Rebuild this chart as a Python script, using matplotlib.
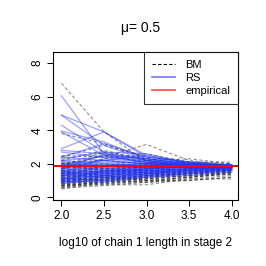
import matplotlib.pyplot as plt
from matplotlib.lines import Line2D

# log10 of chain 1 length in stage 2
x = [2.0, 2.5, 3.0, 3.5, 4.0]

# batch means estimates, one row per replication
bm = [
    [6.8, 3.9, 2.1, 1.9, 1.8],
    [3.8, 3.2, 2.3, 2.0, 1.9],
    [2.5, 2.4, 3.15, 2.2, 1.9],
    [2.4, 3.1, 2.4, 2.1, 1.8],
    [2.2, 2.8, 2.2, 1.9, 1.9],
    [2.1, 2.2, 2.0, 1.8, 1.7],
    [2.0, 1.9, 1.9, 2.0, 1.8],
    [1.9, 2.5, 2.1, 1.9, 2.0],
    [1.8, 1.7, 1.8, 1.8, 1.7],
    [1.7, 2.0, 1.7, 1.9, 1.8],
    [1.6, 1.5, 1.6, 1.7, 1.8],
    [1.6, 1.8, 2.0, 1.8, 1.9],
    [1.5, 1.4, 1.5, 1.6, 1.7],
    [1.5, 1.7, 1.9, 2.0, 1.8],
    [1.4, 1.6, 1.6, 1.7, 1.8],
    [1.4, 1.3, 1.4, 1.5, 1.6],
    [1.3, 1.5, 1.7, 1.8, 1.7],
    [1.3, 1.2, 1.3, 1.5, 1.6],
    [1.2, 1.4, 1.5, 1.6, 1.7],
    [1.2, 1.6, 1.8, 1.9, 1.9],
    [1.1, 1.1, 1.2, 1.4, 1.5],
    [1.1, 1.3, 1.6, 1.7, 1.8],
    [1.0, 1.2, 1.4, 1.6, 1.7],
    [1.0, 1.0, 1.1, 1.3, 1.5],
    [1.0, 1.4, 1.7, 1.8, 1.9],
    [0.9, 1.1, 1.3, 1.5, 1.6],
    [0.9, 0.9, 1.0, 1.2, 1.4],
    [0.9, 1.3, 1.5, 1.7, 1.8],
    [0.8, 1.0, 1.2, 1.4, 1.6],
    [0.8, 0.8, 0.9, 1.1, 1.3],
    [0.8, 1.2, 1.4, 1.6, 1.7],
    [0.7, 0.9, 1.1, 1.3, 1.5],
    [0.7, 0.75, 0.75, 1.1, 1.1],
    [0.7, 1.1, 1.3, 1.5, 1.7],
    [0.6, 0.8, 1.0, 1.2, 1.4],
    [0.6, 1.0, 1.2, 1.5, 1.6],
    [0.55, 0.7, 0.9, 1.0, 1.2],
    [0.5, 0.9, 1.1, 1.4, 1.6],
    [1.2, 1.0, 0.9, 1.2, 1.4],
    [1.4, 1.9, 2.2, 2.3, 2.0],
    [1.7, 2.3, 2.6, 2.1, 2.0],
    [1.9, 2.7, 2.3, 2.0, 1.9],
    [2.0, 1.6, 1.4, 1.6, 1.7],
    [1.1, 1.5, 2.0, 2.1, 2.1],
    [0.9, 1.2, 1.0, 1.0, 1.2],
    [1.3, 1.7, 1.5, 1.4, 1.5],
    [1.5, 1.2, 1.1, 1.3, 1.4],
    [0.75, 0.85, 1.0, 1.2, 1.5],
    [0.65, 0.95, 1.3, 1.4, 1.6],
    [1.05, 1.05, 1.25, 1.45, 1.65],
]

# regenerative simulation estimates
rs = [
    [6.05, 2.6, 2.0, 1.9, 1.85],
    [4.9, 3.9, 2.5, 2.0, 1.9],
    [4.9, 3.1, 2.2, 1.9, 1.8],
    [4.3, 2.7, 2.6, 2.0, 1.9],
    [3.95, 3.3, 2.3, 2.0, 1.9],
    [3.9, 2.5, 2.1, 1.9, 1.8],
    [2.9, 3.9, 2.4, 2.1, 1.9],
    [2.8, 2.6, 2.3, 2.0, 1.9],
    [2.7, 2.4, 2.2, 1.9, 1.8],
    [2.4, 3.2, 2.4, 2.1, 1.9],
    [2.4, 2.2, 2.0, 1.9, 1.9],
    [2.3, 2.7, 2.2, 2.0, 1.9],
    [2.2, 2.0, 1.9, 1.9, 1.8],
    [2.2, 2.4, 2.1, 1.9, 1.9],
    [2.1, 1.9, 1.8, 1.8, 1.8],
    [2.0, 2.2, 2.0, 1.9, 1.9],
    [2.0, 1.8, 1.8, 1.9, 1.8],
    [1.9, 2.1, 2.0, 1.9, 1.9],
    [1.9, 1.7, 1.7, 1.8, 1.8],
    [1.8, 2.0, 1.9, 1.9, 1.8],
    [1.8, 1.6, 1.7, 1.8, 1.8],
    [1.7, 1.9, 1.9, 1.8, 1.9],
    [1.7, 1.5, 1.6, 1.7, 1.8],
    [1.6, 1.8, 1.8, 1.9, 1.8],
    [1.6, 1.5, 1.7, 1.8, 1.8],
    [1.5, 1.7, 1.8, 1.8, 1.9],
    [1.5, 1.4, 1.6, 1.7, 1.8],
    [1.4, 1.6, 1.7, 1.8, 1.8],
    [1.4, 1.5, 1.6, 1.7, 1.8],
    [1.3, 1.5, 1.7, 1.8, 1.8],
    [1.3, 1.4, 1.5, 1.7, 1.7],
    [1.2, 1.4, 1.6, 1.7, 1.8],
    [1.2, 1.3, 1.5, 1.6, 1.7],
    [1.1, 1.3, 1.5, 1.7, 1.8],
    [1.1, 1.2, 1.4, 1.6, 1.7],
    [1.0, 1.3, 1.5, 1.6, 1.8],
    [1.0, 1.1, 1.3, 1.5, 1.7],
    [0.9, 1.2, 1.4, 1.6, 1.7],
    [0.9, 1.0, 1.3, 1.5, 1.7],
    [0.8, 1.1, 1.4, 1.6, 1.7],
    [1.25, 1.9, 2.0, 1.9, 1.9],
    [1.45, 2.3, 2.1, 2.0, 1.9],
    [1.65, 2.6, 2.2, 1.9, 1.9],
    [1.85, 2.5, 2.3, 2.0, 1.9],
    [1.05, 1.6, 1.8, 1.8, 1.8],
    [1.15, 1.0, 1.2, 1.3, 1.5],
    [1.35, 1.2, 1.3, 1.4, 1.6],
    [1.55, 1.3, 1.4, 1.5, 1.6],
    [0.95, 0.9, 1.2, 1.4, 1.6],
    [1.75, 2.2, 2.5, 2.1, 1.9],
]

empirical = 1.87

plt.rcParams["font.family"] = ["Liberation Sans", "DejaVu Sans"]

fig = plt.figure(figsize=(2.66, 2.66), dpi=100)
ax = fig.add_axes([0.199, 0.248, 0.696, 0.557])

for row in bm:
    ax.plot(x, row, color="#333333", ls=(0, (3, 2)), lw=0.8, alpha=0.55)
for row in rs:
    ax.plot(x, row, color="#2233ff", lw=0.9, alpha=0.45)
ax.axhline(empirical, color="red", lw=1.4)

ax.set_xlim(1.9, 4.075)
ax.set_ylim(-0.16, 8.67)
ax.set_xticks([2.0, 2.5, 3.0, 3.5, 4.0])
ax.set_xticklabels(["2.0", "2.5", "3.0", "3.5", "4.0"])
ax.set_yticks([0, 2, 4, 6, 8])
ax.set_yticklabels(["0", "2", "4", "6", "8"], rotation=90, va="center")
ax.tick_params(labelsize=8.5, length=4, width=0.7, pad=3)
for s in ax.spines.values():
    s.set_linewidth(0.8)

ax.set_xlabel("log10 of chain 1 length in stage 2", fontsize=8.5, labelpad=11)
fig.text(0.53, 0.895, "\u03bc= 0.5", ha="center", va="center", fontsize=10)

handles = [
    Line2D([], [], color="black", ls=(0, (3, 2)), lw=0.8),
    Line2D([], [], color="#7777ff", lw=1.2),
    Line2D([], [], color="#ff4444", lw=1.2),
]
leg = ax.legend(handles, ["BM", "RS", "empirical"], loc="upper right",
                fontsize=8, frameon=True, fancybox=False, borderaxespad=0,
                handlelength=2.1, borderpad=0.7, labelspacing=0.3,
                handletextpad=0.9)
leg.get_frame().set_edgecolor("black")
leg.get_frame().set_linewidth(0.8)

fig.savefig("out.png", dpi=100)
